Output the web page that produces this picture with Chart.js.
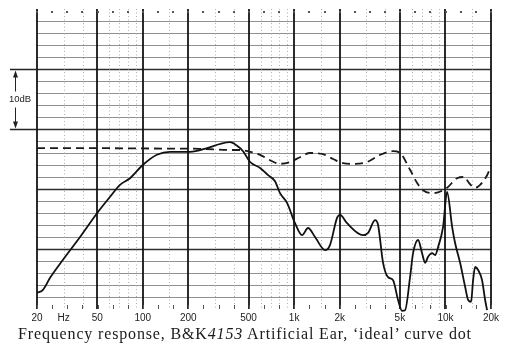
<!DOCTYPE html>
<html>
<head>
<meta charset="utf-8">
<script src="https://cdn.jsdelivr.net/npm/chart.js@4"></script>
<style>
  html, body { margin: 0; padding: 0; background: #fff; }
  #wrap { position: relative; width: 505px; height: 344px; overflow: hidden; background: #fff; }
  #c { position: absolute; left: 0; top: 0; }
  #caption {
    position: absolute; left: 18px; top: 325px;
    font-family: "Liberation Serif", "Times New Roman", serif;
    font-size: 16px; letter-spacing: 0.85px; color: #1a1a1a; white-space: nowrap;
  }
</style>
</head>
<body>
<div id="wrap">
  <canvas id="c" width="505" height="344"></canvas>
  <div id="caption">Frequency response, B&amp;K<i>4153</i> Artificial Ear, ‘ideal’ curve dot</div>
</div>
<script>
// Measured response of the ear simulator (Hz, dB on the chart paper scale)
const freqMeasured = [20, 21.9, 24.4, 29.7, 38.5, 50, 60.8, 70.7, 82.4, 100, 124, 151, 205, 266, 324, 377, 420, 460,
  512, 596, 673, 748, 807, 898, 1014, 1129, 1236, 1375, 1602, 1728, 1922, 2012, 2238, 2855, 3082, 3428, 3588,
  3871, 4178, 4508, 4863, 5168, 5410, 5838, 6110, 6595, 7007, 7335, 7680, 8160, 8541, 8935, 9647, 10250,
  11070, 11580, 12500, 13490, 14130, 14770, 15230, 15710, 16440, 17460, 18290, 18850];
const levelMeasured = [2.7, 3.2, 5.2, 8.2, 12.0, 16.0, 18.7, 20.7, 21.8, 24.0, 25.7, 26.2, 26.2, 26.8, 27.5, 27.8, 27.2, 26.3,
  24.5, 23.5, 22.3, 21.3, 19.3, 17.7, 14.3, 12.3, 13.5, 12.0, 9.8, 10.7, 15.2, 15.7, 14.3, 12.3, 12.7, 14.8, 14.0,
  7.7, 5.3, 4.8, 1.5, -0.3, -0.2, 5.3, 9.3, 11.5, 9.3, 7.7, 8.7, 9.3, 9.0, 10.3, 13.7, 19.5,
  13.7, 11.0, 7.7, 3.7, 1.5, 1.2, 4.8, 7.0, 6.5, 4.8, 1.5, -0.2];

// 'Ideal' target curve
const freqIdeal = [20, 52, 112, 239, 377, 440, 512, 596, 693, 807, 940, 1094, 1274, 1553, 1808, 2105, 2452, 3034,
  3700, 4508, 5015, 5838, 6500, 7117, 8285, 10250, 11930, 13480, 14120, 15710, 16950, 18850, 20000];
const levelIdeal = [26.8, 26.8, 26.75, 26.7, 26.5, 26.5, 26.2, 25.7, 24.8, 24.2, 24.5, 25.3, 26.0, 25.8, 25.0, 24.3, 24.2, 24.5,
  25.7, 26.3, 26.0, 23.2, 21.0, 19.8, 19.3, 20.2, 21.8, 22.0, 21.2, 20.2, 20.7, 22.3, 23.8];

// Frequency axis labels
const labelFreqs = [20, 30, 50, 100, 200, 500, 1000, 2000, 5000, 10000, 20000];
const labelTexts = ['20', 'Hz', '50', '100', '200', '500', '1k', '2k', '5k', '10k', '20k'];

// Chart paper rulings
const majorFreqs = [20, 50, 100, 200, 500, 1000, 2000, 5000, 10000, 20000];
const minorFreqs = [30, 40, 60, 70, 80, 90, 150, 300, 400, 600, 700, 800, 900, 1500, 3000, 4000,
  6000, 7000, 8000, 9000, 15000];
const bracketDb = [30, 40];

const toPoints = (fs, ls) => fs.map((f, i) => ({ x: f, y: ls[i] }));

const paperPlugin = {
  id: 'paper',
  beforeDatasetsDraw(chart) {
    const { ctx, chartArea: a, scales: { x, y } } = chart;
    ctx.save();
    // horizontal rulings every 2 dB, heavier every 10 dB
    for (let d = 2; d < 50; d += 2) {
      const py = Math.round(y.getPixelForValue(d)) + 0.5;
      const heavy = d % 10 === 0;
      ctx.strokeStyle = heavy ? '#2e2e2e' : '#858585';
      ctx.lineWidth = heavy ? 1.4 : 0.9;
      ctx.beginPath(); ctx.moveTo(a.left, py); ctx.lineTo(a.right, py); ctx.stroke();
    }
    // faint dotted frequency rulings
    ctx.setLineDash([1, 2.5]);
    ctx.strokeStyle = '#b0b0b0';
    ctx.lineWidth = 1;
    minorFreqs.forEach(f => {
      const px = Math.round(x.getPixelForValue(f)) + 0.5;
      ctx.beginPath(); ctx.moveTo(px, a.top); ctx.lineTo(px, a.bottom); ctx.stroke();
    });
    ctx.setLineDash([]);
    // heavy frequency rulings
    ctx.strokeStyle = '#151515';
    ctx.lineWidth = 1.8;
    majorFreqs.forEach(f => {
      const px = Math.round(x.getPixelForValue(f));
      ctx.beginPath(); ctx.moveTo(px, a.top); ctx.lineTo(px, a.bottom); ctx.stroke();
    });
    // third-octave marks along top and bottom edges
    ctx.fillStyle = '#555';
    ctx.strokeStyle = '#555';
    ctx.lineWidth = 1;
    for (let k = 0; k <= 30; k++) {
      const px = Math.round(x.getPixelForValue(20 * Math.pow(10, k / 10)));
      ctx.fillRect(px - 1, a.top + 2, 2, 2);
      ctx.beginPath(); ctx.moveTo(px + 0.5, a.bottom - 4); ctx.lineTo(px + 0.5, a.bottom); ctx.stroke();
    }
    // 10 dB scale bracket
    const yTop = Math.round(y.getPixelForValue(bracketDb[1])) + 0.5;
    const yBot = Math.round(y.getPixelForValue(bracketDb[0])) + 0.5;
    const bx = 15.5;
    ctx.strokeStyle = '#222';
    ctx.lineWidth = 1.4;
    ctx.beginPath();
    ctx.moveTo(10, yTop); ctx.lineTo(a.left, yTop);
    ctx.moveTo(10, yBot); ctx.lineTo(a.left, yBot);
    ctx.stroke();
    ctx.lineWidth = 1;
    const mid = (yTop + yBot) / 2;
    ctx.beginPath();
    ctx.moveTo(bx, yTop + 6); ctx.lineTo(bx, mid - 8);
    ctx.moveTo(bx, mid + 8); ctx.lineTo(bx, yBot - 6);
    ctx.stroke();
    ctx.fillStyle = '#222';
    ctx.beginPath();
    ctx.moveTo(bx, yTop + 1); ctx.lineTo(bx - 2.5, yTop + 8); ctx.lineTo(bx + 2.5, yTop + 8); ctx.closePath();
    ctx.moveTo(bx, yBot - 1); ctx.lineTo(bx - 2.5, yBot - 8); ctx.lineTo(bx + 2.5, yBot - 8); ctx.closePath();
    ctx.fill();
    ctx.fillStyle = '#fff';
    ctx.fillRect(7, mid - 6, 28, 12);
    ctx.fillStyle = '#222';
    ctx.font = '9.5px "Liberation Sans", Arial, sans-serif';
    ctx.textAlign = 'left';
    ctx.textBaseline = 'middle';
    ctx.fillText('10dB', 9, mid);
    ctx.restore();
  }
};

new Chart(document.getElementById('c'), {
  type: 'line',
  data: {
    datasets: [
      {
        label: 'Measured',
        data: toPoints(freqMeasured, levelMeasured),
        borderColor: '#111',
        borderWidth: 1.8,
        pointRadius: 0,
        cubicInterpolationMode: 'monotone',
        fill: false,
        clip: { left: 2, top: 2, right: 2, bottom: 6 }
      },
      {
        label: 'Ideal',
        data: toPoints(freqIdeal, levelIdeal),
        borderColor: '#1a1a1a',
        borderWidth: 1.8,
        borderDash: [8, 5],
        pointRadius: 0,
        cubicInterpolationMode: 'monotone',
        fill: false,
        clip: { left: 2, top: 2, right: 2, bottom: 6 }
      }
    ]
  },
  options: {
    responsive: false,
    animation: false,
    devicePixelRatio: 1,
    layout: { padding: { left: 37, right: 14, top: 9, bottom: 20 } },
    plugins: { legend: { display: false }, tooltip: { enabled: false } },
    scales: {
      x: {
        type: 'logarithmic',
        min: 20,
        max: 20000,
        grid: { display: false, drawTicks: false },
        border: { display: false },
        afterBuildTicks: scale => { scale.ticks = labelFreqs.map(v => ({ value: v })); },
        afterFit: scale => { scale.paddingLeft = 0; scale.paddingRight = 0; scale.height = 15; },
        ticks: {
          autoSkip: false,
          maxRotation: 0,
          padding: 3,
          color: '#222',
          font: { family: '"Liberation Sans", Arial, sans-serif', size: 10 },
          callback: (value, index) => labelTexts[index]
        }
      },
      y: { type: 'linear', min: 0, max: 50, display: false }
    }
  },
  plugins: [paperPlugin]
});
</script>
</body>
</html>
